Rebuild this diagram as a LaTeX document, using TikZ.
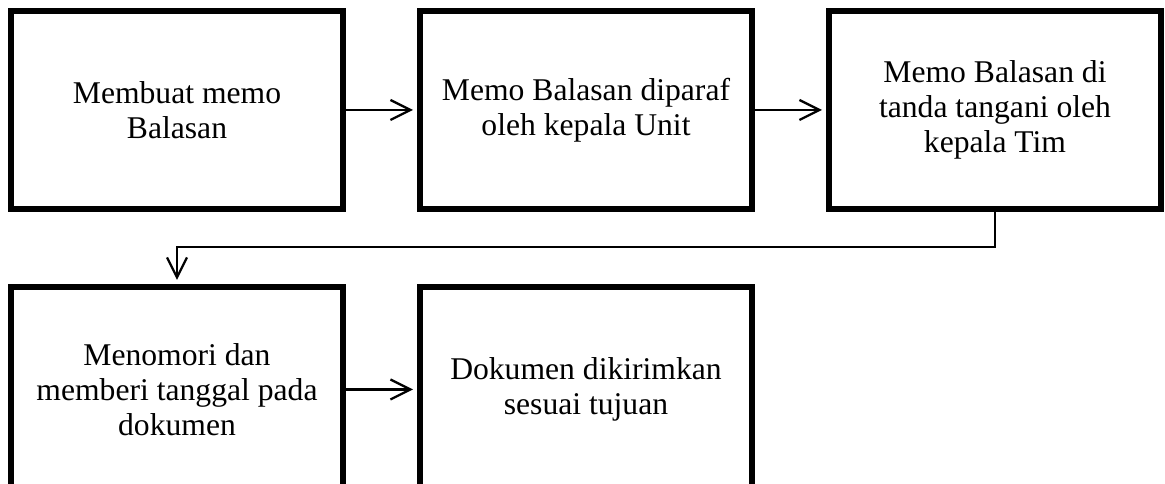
\documentclass[tikz,border=0pt]{standalone}
\usepackage{fontspec}
\setmainfont{Liberation Serif}
\usetikzlibrary{positioning, arrows.meta}

\begin{document}
\begin{tikzpicture}[
        node distance=1.44cm and 1.42cm,
        procbox/.style={rectangle, draw=black, line width=3.4pt, fill=white, minimum width=6.64cm, minimum height=3.96cm, outer sep=0.06cm, align=center, font=\fontsize{18}{20}\selectfont},
        arr/.style={-{Straight Barb[length=4mm, width=4mm]}, line width=1.3pt, shorten >=0.08cm},
    ]
        \useasboundingbox (0,0) rectangle (23.3,9.68);

        % Top row
        \node[procbox] (buat) at (3.54,7.48) {Membuat memo\\Balasan};
        \node[procbox, right=of buat] (paraf) {Memo Balasan diparaf\\oleh kepala Unit};
        \node[procbox, right=of paraf] (ttd) {Memo Balasan di\\tanda tangani oleh\\kepala Tim};

        % Bottom row
        \node[procbox, below=of buat, minimum height=4.1cm] (nomor) {Menomori dan\\memberi tanggal pada\\dokumen};
        \node[procbox, right=of nomor, minimum height=4.1cm] (kirim) {Dokumen dikirimkan\\sesuai tujuan};

        % Arrows
        \draw[arr] (buat) -- (paraf);
        \draw[arr] (paraf) -- (ttd);
        \draw[arr] (ttd.south) -- ++(0,-0.7) -| (nomor.north);
        \draw[arr] (nomor) -- (kirim);
    \end{tikzpicture}
\end{document}
